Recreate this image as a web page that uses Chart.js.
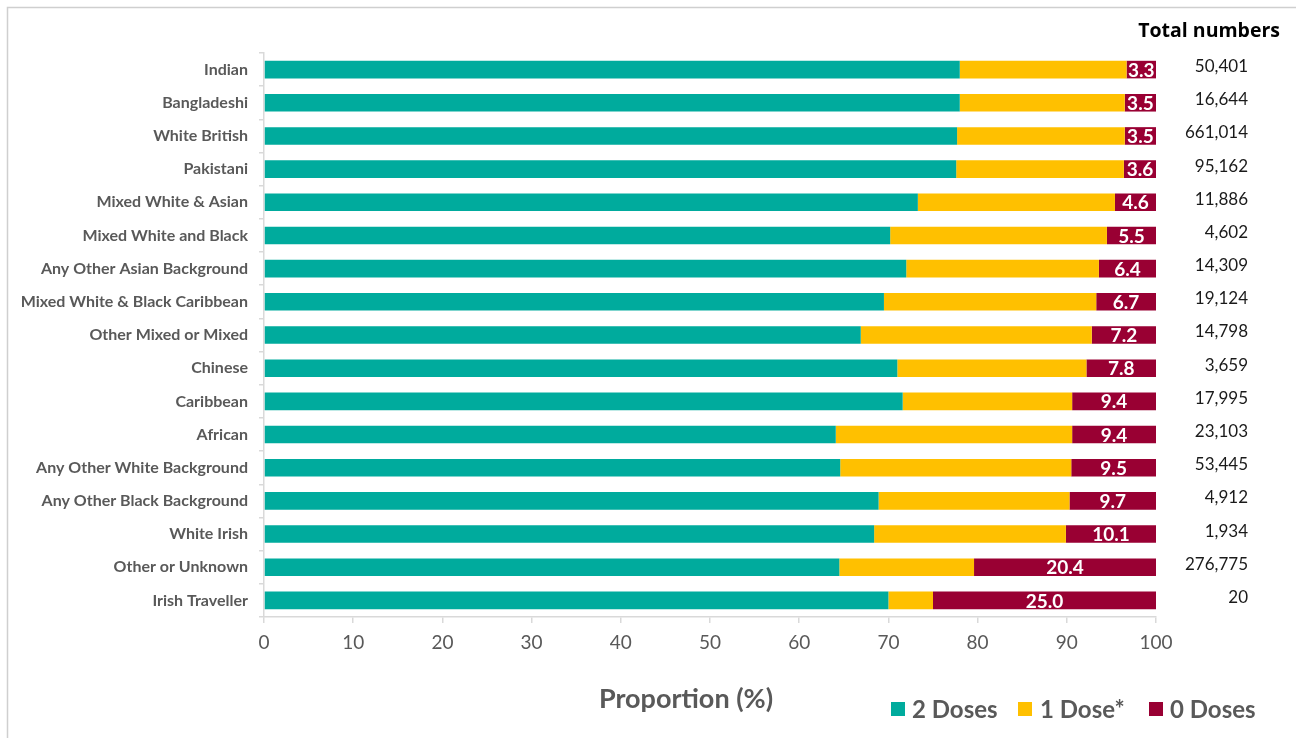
<!DOCTYPE html>
<html>
<head>
<meta charset="utf-8">
<script src="https://cdn.jsdelivr.net/npm/chart.js@4.4.1/dist/chart.umd.min.js"></script>
<style>
  html, body { margin: 0; padding: 0; background: #ffffff; }
  #wrap { position: relative; width: 1296px; height: 738px; }
</style>
</head>
<body>
<div id="wrap"><canvas id="chart" width="1296" height="738"></canvas></div>
<script>
// Vaccination uptake by ethnic group (%), plus the cohort size of each group
const categories = [
  'Indian', 'Bangladeshi', 'White British', 'Pakistani', 'Mixed White & Asian',
  'Mixed White and Black', 'Any Other Asian Background', 'Mixed White & Black Caribbean',
  'Other Mixed or Mixed', 'Chinese', 'Caribbean', 'African', 'Any Other White Background',
  'Any Other Black Background', 'White Irish', 'Other or Unknown', 'Irish Traveller'
];
const twoDoses  = [78.0, 78.0, 77.7, 77.6, 73.3, 70.2, 72.0, 69.5, 66.9, 71.0, 71.6, 64.1, 64.6, 68.9, 68.4, 64.5, 70.0];
const oneDose   = [18.7, 18.5, 18.8, 18.8, 22.1, 24.3, 21.6, 23.8, 25.9, 21.2, 19.0, 26.5, 25.9, 21.4, 21.5, 15.1, 5.0];
const zeroDoses = [3.3, 3.5, 3.5, 3.6, 4.6, 5.5, 6.4, 6.7, 7.2, 7.8, 9.4, 9.4, 9.5, 9.7, 10.1, 20.4, 25.0];
const totalNumbers = ['50,401', '16,644', '661,014', '95,162', '11,886', '4,602', '14,309', '19,124',
  '14,798', '3,659', '17,995', '23,103', '53,445', '4,912', '1,934', '276,775', '20'];
const xTicks = [0, 10, 20, 30, 40, 50, 60, 70, 80, 90, 100];
const seriesNames = ['2 Doses', '1 Dose*', '0 Doses'];

const FONT = 'Lato, "Open Sans", sans-serif';
const GREY_TEXT = '#595959';
const AXIS_GREY = '#d9d9d9';
const COLORS = ['#00ab9d', '#ffc000', '#990033'];

// White value labels inside the "0 Doses" segments
const zeroLabels = {
  id: 'zeroLabels',
  afterDatasetsDraw(chart) {
    const ctx = chart.ctx;
    const meta = chart.getDatasetMeta(2);
    ctx.save();
    ctx.font = 'bold 19px ' + FONT;
    ctx.fillStyle = '#ffffff';
    ctx.textAlign = 'center';
    ctx.textBaseline = 'middle';
    meta.data.forEach((bar, i) => {
      const cx = (bar.x + bar.base) / 2;
      ctx.fillText(zeroDoses[i].toFixed(1), cx, bar.y + 1);
    });
    ctx.restore();
  }
};

// Frame, totals column, axis title and legend
const extras = {
  id: 'extras',
  afterDraw(chart) {
    const ctx = chart.ctx;
    const y = chart.scales.y;
    ctx.save();

    // frame
    ctx.strokeStyle = '#cfcfcf';
    ctx.lineWidth = 1.5;
    ctx.beginPath();
    ctx.moveTo(7.5, 738);
    ctx.lineTo(7.5, 7.5);
    ctx.lineTo(1296, 7.5);
    ctx.stroke();

    // totals column
    ctx.fillStyle = '#000000';
    ctx.font = 'bold 19.5px "Open Sans", sans-serif';
    ctx.textAlign = 'right';
    ctx.textBaseline = 'middle';
    ctx.fillText('Total numbers', 1280, 31);
    ctx.fillStyle = '#1a1a1a';
    ctx.font = '17px ' + FONT;
    totalNumbers.forEach((t, i) => {
      ctx.fillText(t, 1248, y.getPixelForValue(i) - 3);
    });

    // x-axis title
    ctx.fillStyle = GREY_TEXT;
    ctx.font = 'bold 27px ' + FONT;
    ctx.textAlign = 'center';
    ctx.fillText('Proportion (%)', 686, 699);

    // legend
    const items = [
      { box: 891, text: 912 },
      { box: 1018, text: 1040 },
      { box: 1149, text: 1170 }
    ];
    ctx.font = 'bold 24px ' + FONT;
    ctx.textAlign = 'left';
    items.forEach((it, i) => {
      ctx.fillStyle = COLORS[i];
      ctx.fillRect(it.box, 702, 14, 14);
      ctx.fillStyle = GREY_TEXT;
      ctx.fillText(chart.data.datasets[i].label, it.text, 710);
    });
    ctx.restore();
  }
};

new Chart(document.getElementById('chart'), {
  type: 'bar',
  data: {
    labels: categories,
    datasets: [
      { label: seriesNames[0], data: twoDoses, backgroundColor: COLORS[0] },
      { label: seriesNames[1], data: oneDose, backgroundColor: COLORS[1] },
      { label: seriesNames[2], data: zeroDoses, backgroundColor: COLORS[2] }
    ]
  },
  options: {
    indexAxis: 'y',
    responsive: false,
    animation: false,
    devicePixelRatio: 1,
    layout: { padding: { top: 53, right: 140, left: 0, bottom: 0 } },
    datasets: {
      bar: { barPercentage: 0.53, categoryPercentage: 1.0, borderWidth: 0 }
    },
    plugins: {
      legend: { display: false },
      tooltip: { enabled: false }
    },
    scales: {
      x: {
        stacked: true,
        min: 0,
        max: 100,
        afterBuildTicks(scale) { scale.ticks = xTicks.map(v => ({ value: v })); },
        afterFit(scale) { scale.height = 121; },
        grid: { drawOnChartArea: false, drawTicks: true, tickLength: 6, color: AXIS_GREY, lineWidth: 1.5 },
        border: { color: AXIS_GREY, width: 1.5 },
        ticks: { color: GREY_TEXT, font: { family: FONT, size: 19 }, padding: 8 }
      },
      y: {
        stacked: true,
        afterFit(scale) { scale.width = 264; },
        grid: { drawOnChartArea: false, drawTicks: true, tickLength: 5, offset: true, color: AXIS_GREY, lineWidth: 1.5 },
        border: { color: AXIS_GREY, width: 1.5 },
        ticks: { color: GREY_TEXT, font: { family: FONT, size: 16, weight: 'bold' }, padding: 11, autoSkip: false }
      }
    }
  },
  plugins: [zeroLabels, extras]
});
</script>
</body>
</html>
